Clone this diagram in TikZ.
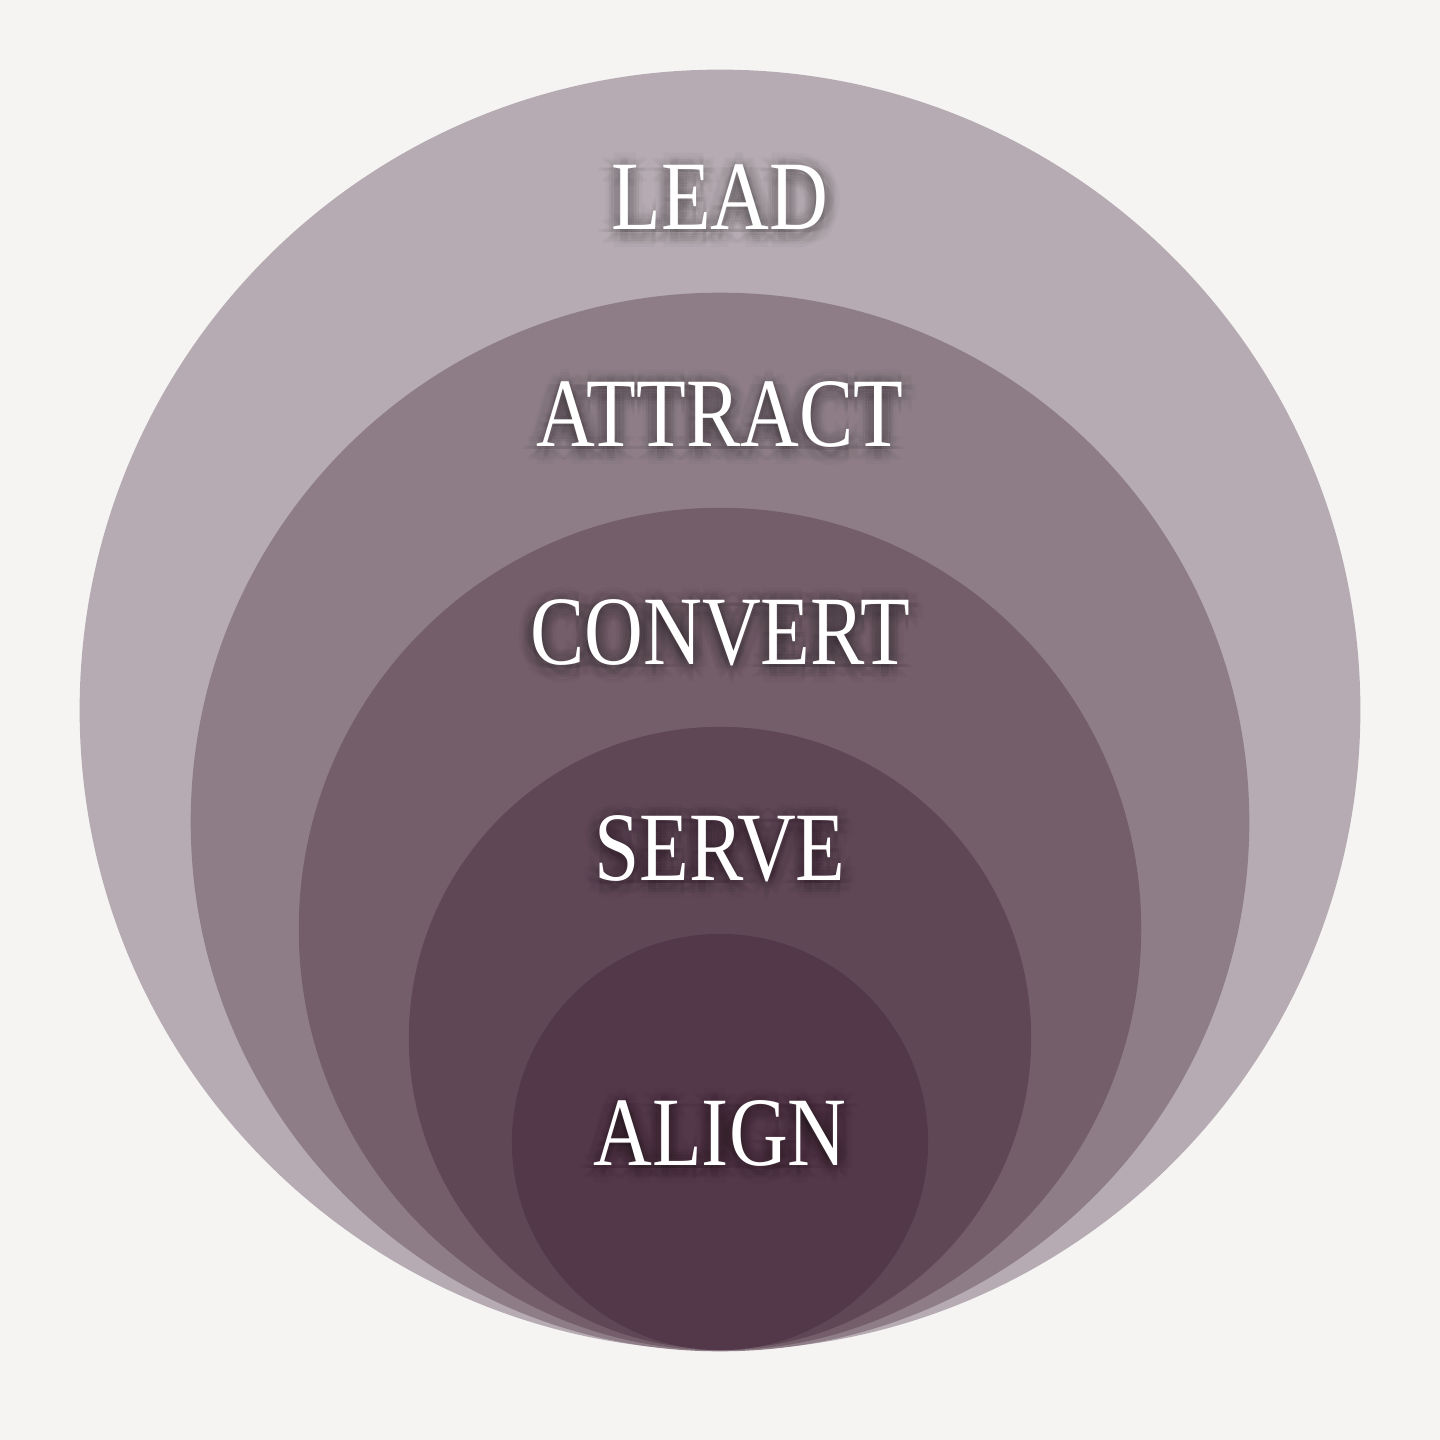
\documentclass[tikz,border=0pt]{standalone}
\usepackage{fontspec}
\setmainfont{Liberation Serif}
\definecolor{bgc}{HTML}{F5F4F2}
\definecolor{ringA}{HTML}{B6ABB2}
\definecolor{ringB}{HTML}{8E7D87}
\definecolor{ringC}{HTML}{735E6A}
\definecolor{ringD}{HTML}{604755}
\definecolor{ringE}{HTML}{533849}
\newcommand{\lbltext}[1]{\scalebox{0.83}[1]{\fontsize{27.9}{30}\selectfont #1}}
\tikzset{
  ring/.style={circle, inner sep=0pt, draw=none},
  lbl/.style={anchor=base, inner sep=0pt, text=white},
  shd/.style={anchor=base, inner sep=0pt, text=black, opacity=0.022}
}
\newcommand{\glowlabel}[3]{%
  \foreach \rr in {3,6,9,12,15}{
    \foreach \aa in {0,45,...,315}{
      \node[shd] at ({720+\rr*cos(\aa)},{#2+3+\rr*sin(\aa)}) {\lbltext{#3}};
    }
  }
  \node[lbl] (#1) at (720,#2) {\lbltext{#3}};
}
\begin{document}
\begin{tikzpicture}[x=0.01cm,y=-0.01cm]
\fill[bgc] (0,0) rectangle (1440,1440);
\useasboundingbox (0,0) rectangle (1440,1440);
\node[ring, fill=ringA, minimum size=12.8cm] (cA) at (720,710) {};
\node[ring, fill=ringB, minimum size=10.58cm] (cB) at (720,822) {};
\node[ring, fill=ringC, minimum size=8.42cm] (cC) at (720,929) {};
\node[ring, fill=ringD, minimum size=6.22cm] (cD) at (720,1038) {};
\node[ring, fill=ringE, minimum size=4.16cm] (cE) at (720,1142) {};
\glowlabel{lead}{230}{LEAD}
\glowlabel{attract}{447}{ATTRACT}
\glowlabel{convert}{664}{CONVERT}
\glowlabel{serve}{880}{SERVE}
\glowlabel{align}{1165}{ALIGN}
\end{tikzpicture}
\end{document}
